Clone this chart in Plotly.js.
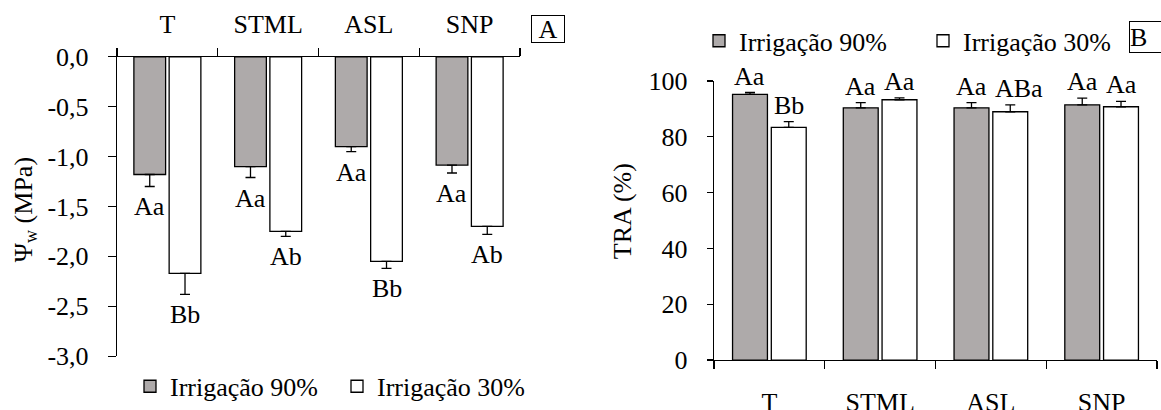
<!DOCTYPE html>
<html>
<head>
<meta charset="utf-8">
<script src="https://cdn.plot.ly/plotly-3.0.1.min.js"></script>
<style>
html,body{margin:0;padding:0;background:#fff;}
#chart{width:1161px;height:410px;}
</style>
</head>
<body>
<div id="chart"></div>
<script>
// ---- Data ----
const categories = ['T', 'STML', 'ASL', 'SNP'];
const seriesNames = ['Irrigação 90%', 'Irrigação 30%'];

// Panel A: water potential (MPa)
const psiIrr90 = [-1.18, -1.10, -0.90, -1.085];
const psiIrr90Err = [0.12, 0.11, 0.05, 0.08];
const psiIrr30 = [-2.17, -1.75, -2.05, -1.70];
const psiIrr30Err = [0.21, 0.05, 0.07, 0.08];
const psiLetters90 = ['Aa', 'Aa', 'Aa', 'Aa'];
const psiLetters30 = ['Bb', 'Ab', 'Bb', 'Ab'];
const psiTickVals = [0, -0.5, -1.0, -1.5, -2.0, -2.5, -3.0];
const psiTickText = ['0,0', '-0,5', '-1,0', '-1,5', '-2,0', '-2,5', '-3,0'];

// Panel B: relative water content (%)
const traIrr90 = [95.2, 90.4, 90.4, 91.5];
const traIrr90Err = [0.7, 1.9, 1.9, 2.4];
const traIrr30 = [83.4, 93.3, 89.0, 90.8];
const traIrr30Err = [2.1, 0.7, 2.5, 1.9];
const traLetters90 = ['Aa', 'Aa', 'Aa', 'Aa'];
const traLetters30 = ['Bb', 'Aa', 'ABa', 'Aa'];

// ---- Style ----
const FONT = 'Liberation Serif, Times New Roman, serif';
const FS = 26;
const GRAY = '#aeaaaa';
const OFF = 0.175;
const W = 1161, H = 410;

function barTrace(x, y, err, up, color, name, xa, ya, legend) {
  return {
    type: 'bar', x: x, y: y, name: name,
    xaxis: xa, yaxis: ya, legend: legend,
    marker: {color: color, line: {color: '#000', width: 1.3}},
    error_y: up
      ? {type: 'data', symmetric: false, array: err, arrayminus: err.map(() => 0), color: '#000', thickness: 1.3, width: 5}
      : {type: 'data', symmetric: false, array: err.map(() => 0), arrayminus: err, color: '#000', thickness: 1.3, width: 5},
    hoverinfo: 'skip'
  };
}

const data = [
  barTrace(categories, psiIrr90, psiIrr90Err, false, GRAY, seriesNames[0], 'x', 'y', 'legend'),
  barTrace(categories, psiIrr30, psiIrr30Err, false, '#ffffff', seriesNames[1], 'x', 'y', 'legend'),
  barTrace(categories, traIrr90, traIrr90Err, true, GRAY, seriesNames[0], 'x2', 'y2', 'legend2'),
  barTrace(categories, traIrr30, traIrr30Err, true, '#ffffff', seriesNames[1], 'x2', 'y2', 'legend2')
];

const annotations = [];
function addLetters(letters, vals, errs, off, xref, yref, up) {
  letters.forEach((t, i) => {
    annotations.push({
      xref: xref, yref: yref, x: i + off,
      y: up ? vals[i] + errs[i] : vals[i] - errs[i],
      text: t, showarrow: false,
      yanchor: up ? 'bottom' : 'top',
      yshift: up ? 0 : -4,
      xshift: t.length > 2 ? 9 : 0,
      font: {family: FONT, size: FS, color: '#000'}
    });
  });
}
addLetters(psiLetters90, psiIrr90, psiIrr90Err, -OFF, 'x', 'y', false);
addLetters(psiLetters30, psiIrr30, psiIrr30Err, OFF, 'x', 'y', false);
addLetters(traLetters90, traIrr90, traIrr90Err, -OFF, 'x2', 'y2', true);
addLetters(traLetters30, traIrr30, traIrr30Err, OFF, 'x2', 'y2', true);

// panel letters
annotations.push({xref: 'paper', yref: 'paper', x: 547.5/W, y: 1 - 30/H, text: 'A', showarrow: false,
  xanchor: 'center', yanchor: 'middle', bordercolor: '#000', borderwidth: 1, borderpad: 0, width: 32, height: 26,
  font: {family: FONT, size: FS, color: '#000'}});
annotations.push({xref: 'paper', yref: 'paper', x: 1129/W, y: 1 - 38.5/H, text: 'B', showarrow: false,
  xanchor: 'left', yanchor: 'middle', bordercolor: '#000', borderwidth: 1, borderpad: 0, width: 40, height: 30, align: 'left',
  font: {family: FONT, size: FS, color: '#000'}});
// y titles
annotations.push({xref: 'paper', yref: 'paper', x: 25/W, y: 1 - 216/H, text: 'Ψ<sub>w</sub> (MPa)', showarrow: false,
  textangle: -90, xanchor: 'center', yanchor: 'middle', font: {family: FONT, size: FS, color: '#000'}});
annotations.push({xref: 'paper', yref: 'paper', x: 622/W, y: 1 - 217/H, text: 'TRA (%)', showarrow: false,
  textangle: -90, xanchor: 'center', yanchor: 'middle', font: {family: FONT, size: FS, color: '#000'}});

const axisCommon = {
  showline: true, linecolor: '#000', linewidth: 1.2, showgrid: false, zeroline: false,
  ticks: 'outside', tickcolor: '#000', tickwidth: 1.2,
  tickfont: {family: FONT, size: FS, color: '#000'}, automargin: false, fixedrange: true
};

const layout = {
  width: W, height: H,
  margin: {l: 0, r: 0, t: 0, b: 0},
  paper_bgcolor: '#fff', plot_bgcolor: '#fff',
  font: {family: FONT, size: FS, color: '#000'},
  barmode: 'group', bargap: 0.3, bargroupgap: 0.1,
  separators: ',.',
  xaxis: Object.assign({}, axisCommon, {
    domain: [117/W, 520/W], anchor: 'y', side: 'top', type: 'category',
    tickson: 'boundaries', ticklen: 8, ticklabelstandoff: 12
  }),
  yaxis: Object.assign({}, axisCommon, {
    domain: [1 - 366/H, 1 - 58.3/H], anchor: 'x', range: [-3, 0],
    tickvals: psiTickVals, ticktext: psiTickText, ticklen: 8, ticklabelstandoff: 14
  }),
  xaxis2: Object.assign({}, axisCommon, {
    domain: [714/W, 1157/W], anchor: 'y2', side: 'bottom', type: 'category',
    tickson: 'boundaries', ticklen: 8, ticklabelstandoff: 19
  }),
  yaxis2: Object.assign({}, axisCommon, {
    domain: [1 - 370/H, 1 - 83.3/H], anchor: 'x2', range: [0, 100],
    dtick: 20, ticklen: 6, ticklabelstandoff: 14
  }),
  legend: {orientation: 'h', x: 130/W, y: 1 - 397/H, xanchor: 'left', yanchor: 'middle',
    entrywidth: 162, entrywidthmode: 'pixels',
    font: {family: FONT, size: FS, color: '#000'}, bgcolor: 'rgba(0,0,0,0)', traceorder: 'normal'},
  legend2: {orientation: 'h', x: 699/W, y: 1 - 42/H, xanchor: 'left', yanchor: 'middle',
    entrywidth: 179, entrywidthmode: 'pixels',
    font: {family: FONT, size: FS, color: '#000'}, bgcolor: 'rgba(0,0,0,0)', traceorder: 'normal'},
  annotations: annotations,
  showlegend: true
};

Plotly.newPlot('chart', data, layout, {displayModeBar: false, staticPlot: true});
</script>
</body>
</html>
